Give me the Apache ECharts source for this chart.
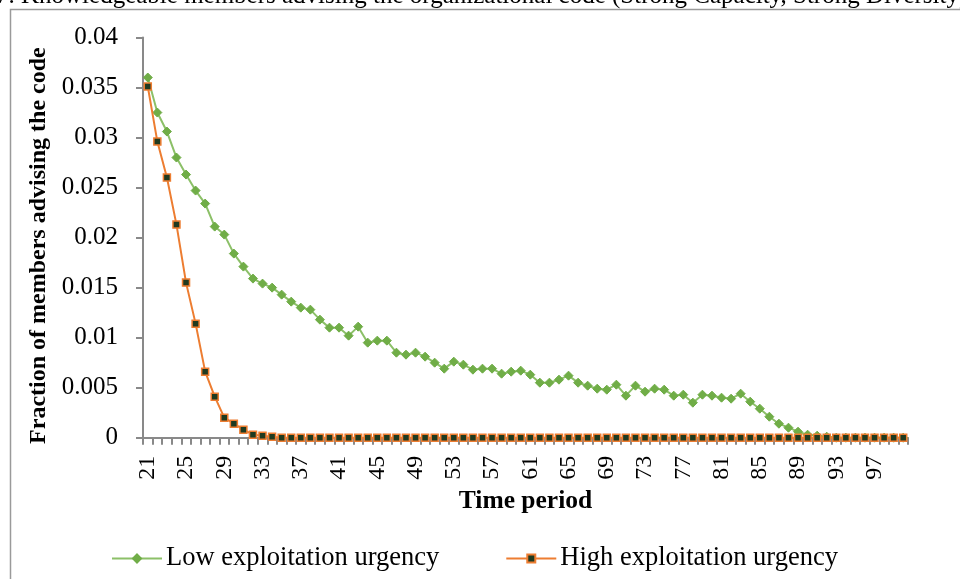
<!DOCTYPE html>
<html>
<head>
<meta charset="utf-8">
<script src="https://cdn.jsdelivr.net/npm/echarts@6/dist/echarts.min.js"></script>
<style>
html,body{margin:0;padding:0;background:#fff;}
#chart{width:960px;height:579px;}
</style>
</head>
<body>
<div id="chart"></div>
<script>
const periods = [];
for (let t = 21; t <= 100; t++) periods.push(String(t));

const lowUrgency = [
  0.0360, 0.0325, 0.0306, 0.0280, 0.0263, 0.0247, 0.0234, 0.0211, 0.0203, 0.0184,
  0.0171, 0.0159, 0.0154, 0.0150, 0.0143, 0.0136, 0.0130, 0.0128, 0.0118, 0.0110,
  0.0110, 0.0102, 0.0111, 0.0095, 0.0097, 0.0097, 0.0085, 0.0083, 0.0085, 0.0081,
  0.0075, 0.0069, 0.0076, 0.0073, 0.0068, 0.0069, 0.0069, 0.0064, 0.0066, 0.0067,
  0.0063, 0.0055, 0.0055, 0.0058, 0.0062, 0.0055, 0.0052, 0.0049, 0.0048, 0.0053,
  0.0042, 0.0052, 0.0046, 0.0049, 0.0048, 0.0042, 0.0043, 0.0035, 0.0043, 0.0042,
  0.0040, 0.0039, 0.0044, 0.0036, 0.0029, 0.0021, 0.0014, 0.0010, 0.0006, 0.0003,
  0.0002, 0.0001, 0, 0, 0, 0, 0, 0, 0, 0
];

const highUrgency = [
  0.0351, 0.0296, 0.0260, 0.0213, 0.0155, 0.0114, 0.0066, 0.0041, 0.0020, 0.0014,
  0.0008, 0.0003, 0.0002, 0.0001, 0, 0, 0, 0, 0, 0,
  0, 0, 0, 0, 0, 0, 0, 0, 0, 0,
  0, 0, 0, 0, 0, 0, 0, 0, 0, 0,
  0, 0, 0, 0, 0, 0, 0, 0, 0, 0,
  0, 0, 0, 0, 0, 0, 0, 0, 0, 0,
  0, 0, 0, 0, 0, 0, 0, 0, 0, 0,
  0, 0, 0, 0, 0, 0, 0, 0, 0, 0
];

const seriesNames = ['Low exploitation urgency', 'High exploitation urgency'];
const yTicks = { min: 0, max: 0.04, interval: 0.005 };

const serif = '"Liberation Serif", "Times New Roman", serif';
const axisGray = '#898989';
const green = '#70AD47';
const orange = '#ED7D31';

const chart = echarts.init(document.getElementById('chart'), null, { renderer: 'canvas' });
chart.setOption({
  backgroundColor: '#ffffff',
  animation: false,
  graphic: [
    {
      type: 'rect',
      shape: { x: 10.5, y: 9.5, width: 1200, height: 1200 },
      style: { fill: 'none', stroke: '#9a9a9a', lineWidth: 1.5 },
      silent: true, z: -1
    },
    {
      type: 'text',
      x: -4, y: 9,
      style: {
        text: '7. Knowledgeable members advising the organizational code (Strong Capacity, Strong Diversity)',
        font: '25px ' + serif,
        fill: '#000',
        verticalAlign: 'bottom'
      },
      silent: true
    }
  ],
  grid: { left: 143, right: 52, top: 37.5, bottom: 141.3, containLabel: false },
  legend: {
    data: seriesNames,
    left: 106,
    top: 540,
    itemWidth: 50,
    itemHeight: 10,
    itemGap: 66,
    textStyle: { fontFamily: serif, fontSize: 26.5, color: '#000', padding: [0, 0, 0, -1] }
  },
  xAxis: {
    type: 'category',
    data: periods,
    boundaryGap: true,
    name: 'Time period',
    nameLocation: 'middle',
    nameGap: 51,
    nameTextStyle: { fontFamily: serif, fontSize: 25.5, fontWeight: 'bold', color: '#000', verticalAlign: 'top' },
    axisLine: { lineStyle: { color: axisGray, width: 2 } },
    axisTick: { show: true, interval: 0, length: 7, lineStyle: { color: axisGray, width: 2 } },
    axisLabel: {
      interval: 3,
      rotate: 90,
      margin: 18,
      fontFamily: serif,
      fontSize: 24,
      color: '#000'
    },
    splitLine: { show: false }
  },
  yAxis: {
    type: 'value',
    min: yTicks.min,
    max: yTicks.max,
    interval: yTicks.interval,
    name: 'Fraction of members advising the code',
    nameLocation: 'middle',
    nameGap: 88,
    nameRotate: 90,
    nameTextStyle: { fontFamily: serif, fontSize: 24, fontWeight: 'bold', color: '#000', padding: [0, 16, 0, 0] },
    axisLine: { show: true, lineStyle: { color: axisGray, width: 2 } },
    axisTick: { show: true, length: 7, lineStyle: { color: axisGray, width: 2 } },
    axisLabel: {
      margin: 25,
      fontFamily: serif,
      fontSize: 25,
      color: '#000',
      formatter: function (v) { return String(parseFloat(v.toFixed(4))); }
    },
    splitLine: { show: false }
  },
  series: [
    {
      name: seriesNames[0],
      type: 'line',
      data: lowUrgency,
      symbol: 'diamond',
      symbolSize: 9,
      showAllSymbol: true,
      itemStyle: { color: green, borderColor: green, borderWidth: 1 },
      lineStyle: { color: '#8CC068', width: 2 },
      z: 2
    },
    {
      name: seriesNames[1],
      type: 'line',
      data: highUrgency,
      symbol: 'rect',
      symbolSize: 7,
      showAllSymbol: true,
      itemStyle: { color: '#1F3A20', borderColor: orange, borderWidth: 1.5 },
      lineStyle: { color: orange, width: 2 },
      z: 3
    }
  ]
});
</script>
</body>
</html>
